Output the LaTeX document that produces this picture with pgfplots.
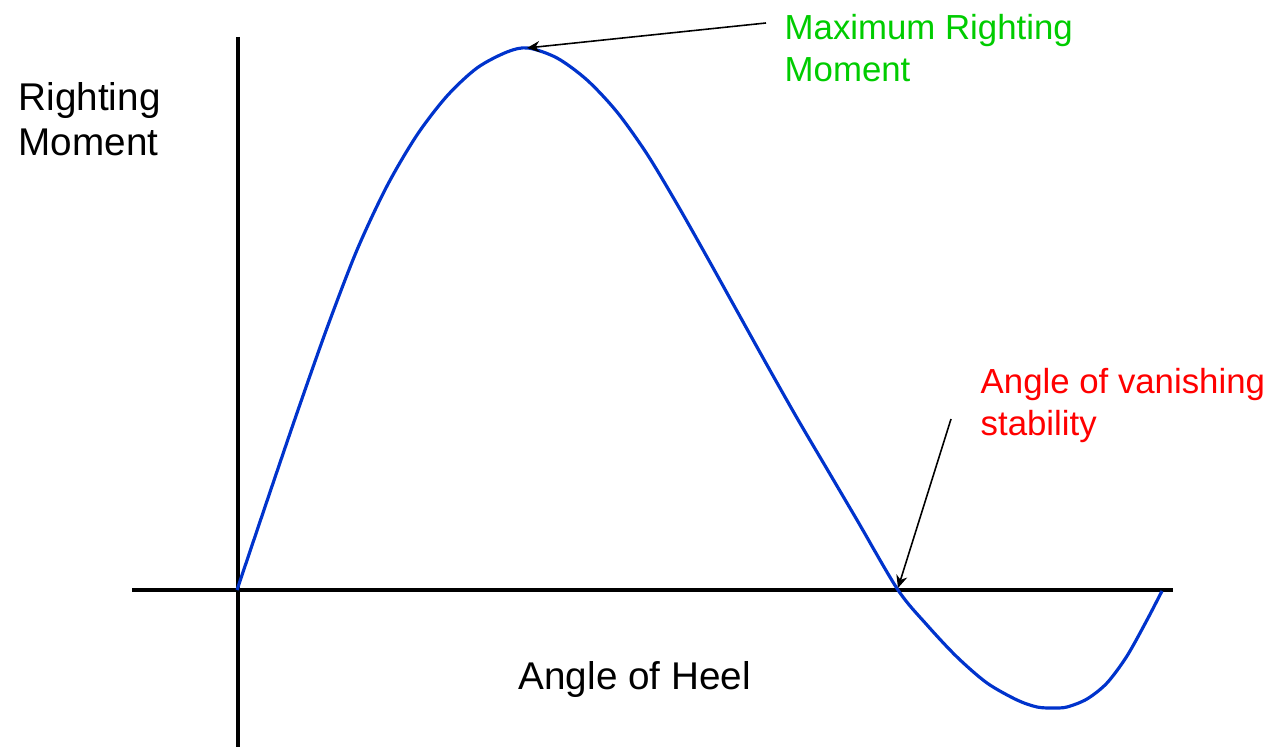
\documentclass[border=0pt]{standalone}
\usepackage{fontspec}
\setmainfont{Liberation Sans}
\usepackage{pgfplots}
\pgfplotsset{compat=1.18}
\usetikzlibrary{arrows.meta}

\definecolor{curveblue}{RGB}{0,51,204}
\definecolor{labelgreen}{RGB}{0,204,0}
\definecolor{labelred}{RGB}{255,0,0}

\tikzset{
    lbl/.style={inner sep=0pt, anchor=base west,
            font=\fontsize{11}{13}\selectfont},
    note/.style={inner sep=0pt, anchor=base west,
            font=\fontsize{9.9}{12}\selectfont},
    callout/.style={line width=0.45pt, -{Stealth[length=3.6pt, width=3.2pt]}},
}

\begin{document}
\begin{tikzpicture}
    \useasboundingbox (0,0) rectangle (12.72cm,7.47cm);
    \begin{axis}[
            scale only axis,
            width=12.72cm, height=7.47cm,
            xmin=-237, xmax=1035,
            ymin=-157, ymax=590,
            hide axis, clip=false,
        ]
        % --- axes drawn by hand (crossing at the origin) ---
        \draw[line width=1.15pt] (axis cs:-105,0) -- (axis cs:936,0);
        \draw[line width=1.15pt] (axis cs:1,553) -- (axis cs:1,-157);

        % --- righting moment curve ---
        \addplot[curveblue, line width=0.9pt, smooth] coordinates {
                (0,0) (30,89) (60,177) (90,262) (120,340) (150,404)
                (180,455) (210,494) (240,522) (270,538) (291,542)
                (320,532) (350,510) (380,478) (410,436) (440,386)
                (470,333) (500,279) (530,225) (560,172) (590,121)
                (620,70) (661,0) (690,-35) (720,-67) (750,-93)
                (780,-110) (800,-117) (816,-118) (830,-117) (850,-109)
                (870,-93) (890,-66) (910,-30) (925,-1)};

        % --- labels ---
        \node[lbl] at (axis cs:-219,479) {Righting};
        \node[lbl] at (axis cs:-219,434) {Moment};
        \node[lbl] at (axis cs:281,-99) {Angle of Heel};
        \node[note, text=labelgreen] at (axis cs:547,550) {Maximum Righting};
        \node[note, text=labelgreen] at (axis cs:547,508) {Moment};
        \node[note, text=labelred] at (axis cs:743,196) {Angle of vanishing};
        \node[note, text=labelred] at (axis cs:743,154) {stability};

        % --- annotation arrows ---
        \draw[callout] (axis cs:529,567) -- (axis cs:290,542);
        \draw[callout] (axis cs:714,171) -- (axis cs:661,2);
    \end{axis}
\end{tikzpicture}
\end{document}
